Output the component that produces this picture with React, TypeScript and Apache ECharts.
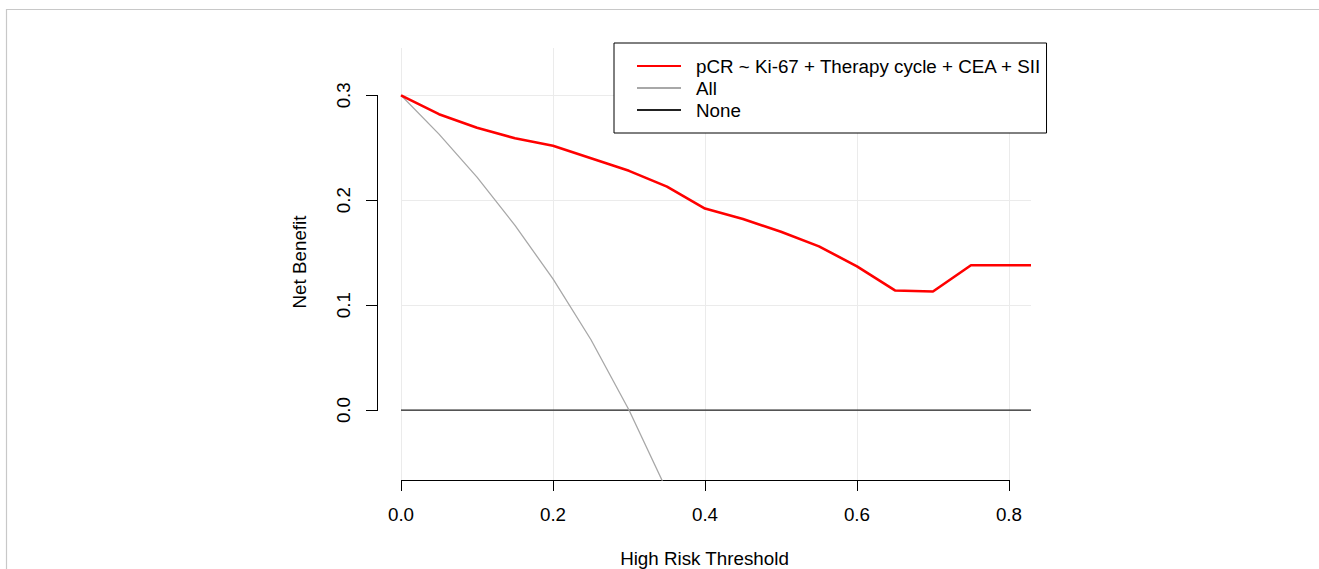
import React, { useEffect, useRef } from "react";
import * as echarts from "echarts";

const thresholds = [0, 0.05, 0.1, 0.15, 0.2, 0.25, 0.3, 0.35, 0.4, 0.45, 0.5, 0.55, 0.6, 0.65, 0.7, 0.75, 0.8, 0.829];
const modelNB = [0.300, 0.282, 0.269, 0.259, 0.252, 0.240, 0.228, 0.213, 0.192, 0.182, 0.170, 0.156, 0.137, 0.114, 0.113, 0.138, 0.138, 0.138];
const allThresholds = [0, 0.05, 0.1, 0.15, 0.2, 0.25, 0.3, 0.35];
const allNB = [0.300, 0.263, 0.222, 0.176, 0.125, 0.067, 0.0, -0.077];
const noneThresholds = [0, 0.829];
const noneNB = [0, 0];
const xTicks = [0, 0.2, 0.4, 0.6, 0.8];
const yTicks = [0, 0.1, 0.2, 0.3];
const seriesNames = ["pCR ~ Ki-67 + Therapy cycle + CEA + SII", "All", "None"];
const xMin = 0;
const xMax = 0.829;
const yMin = -0.0667;
const yMax = 0.3451;

const pair = (xs: number[], ys: number[]) => xs.map((x, i) => [x, ys[i]]);

export default function App() {
  const ref = useRef<HTMLDivElement>(null);
  useEffect(() => {
    document.body.style.margin = "0";
    const chart = echarts.init(ref.current!, null, { renderer: "svg" });
    const font = "'Liberation Sans', Arial, Helvetica, sans-serif";
    const fs = 18.8;
    const yOffset = 24;
    chart.setOption({
      animation: false,
      backgroundColor: "#ffffff",
      textStyle: { fontFamily: font, color: "#000" },
      grid: { left: 401, right: 288, top: 48, bottom: 89, containLabel: false, outerBoundsMode: "none" },
      legend: {
        data: seriesNames,
        orient: "vertical",
        left: 614,
        top: 43,
        padding: [12, 5, 12, 22],
        itemGap: 0,
        itemWidth: 44,
        itemHeight: 22,
        backgroundColor: "#ffffff",
        borderColor: "#000",
        borderWidth: 1,
        borderRadius: 0,
        selectedMode: false,
        itemStyle: { opacity: 0 },
        textStyle: { fontSize: fs, color: "#000", lineHeight: 22, padding: [0, 0, 0, 10], fontFamily: font },
        z: 20,
      },
      xAxis: {
        type: "value",
        min: xMin,
        max: xMax,
        interval: 0.2,
        name: "High Risk Threshold",
        nameLocation: "middle",
        nameGap: 69,
        nameTextStyle: { fontSize: fs, color: "#000", padding: [0, 23, 0, 0], fontFamily: font },
        axisLine: { show: false, onZero: false },
        axisTick: { show: true, length: 11, customValues: xTicks, lineStyle: { color: "#000", width: 1 } },
        axisLabel: {
          customValues: xTicks,
          fontSize: fs,
          color: "#000",
          margin: 25,
          fontFamily: font,
          formatter: (v: number) => v.toFixed(1),
        },
        splitLine: { show: true, lineStyle: { color: "#ebebeb", width: 1 } },
      },
      yAxis: {
        type: "value",
        min: yMin,
        max: yMax,
        offset: yOffset,
        name: "Net Benefit",
        nameLocation: "middle",
        nameRotate: 90,
        nameGap: 68,
        nameTextStyle: { fontSize: fs, color: "#000", padding: [0, 0, 0, 4], fontFamily: font },
        axisLine: { show: false, onZero: false },
        axisTick: { show: true, length: 11, customValues: yTicks, lineStyle: { color: "#000", width: 1 } },
        axisLabel: {
          customValues: yTicks,
          fontSize: fs,
          color: "#000",
          rotate: 90,
          margin: 24,
          fontFamily: font,
          formatter: (v: number) => v.toFixed(1),
        },
        splitLine: { show: true, lineStyle: { color: "#ebebeb", width: 1 } },
      },
      series: [
        {
          name: seriesNames[2],
          type: "line",
          data: pair(noneThresholds, noneNB),
          symbol: "none",
          lineStyle: { color: "#222", width: 1.3 },
          itemStyle: { color: "#222" },
          z: 3,
        },
        {
          name: seriesNames[1],
          type: "line",
          data: pair(allThresholds, allNB),
          symbol: "none",
          lineStyle: { color: "#a8a8a8", width: 1.3 },
          itemStyle: { color: "#a8a8a8" },
          z: 4,
        },
        {
          name: seriesNames[0],
          type: "line",
          data: pair(thresholds, modelNB),
          symbol: "none",
          lineStyle: { color: "#ff0000", width: 2.6 },
          itemStyle: { color: "#ff0000" },
          z: 5,
        },
      ],
    });

    const px = (x: number, y: number) => chart.convertToPixel({ gridIndex: 0 }, [x, y]) as number[];
    const yTop = px(0, yTicks[yTicks.length - 1]);
    const yBot = px(0, yTicks[0]);
    const xL = px(xTicks[0], yMin);
    const xR = px(xTicks[xTicks.length - 1], yMin);
    const ax = Math.round(yTop[0] - yOffset) + 0.5;
    const ay = Math.round(xL[1]) + 0.5;
    chart.setOption({
      graphic: [
        {
          type: "line",
          shape: { x1: 6.5, y1: 9, x2: 6.5, y2: 569 },
          style: { stroke: "#c8c8c8", lineWidth: 1.2 },
          silent: true,
        },
        {
          type: "line",
          shape: { x1: 6, y1: 9.5, x2: 1319, y2: 9.5 },
          style: { stroke: "#c8c8c8", lineWidth: 1.2 },
          silent: true,
        },
        {
          type: "line",
          shape: { x1: ax, y1: Math.round(yTop[1]), x2: ax, y2: Math.round(yBot[1]) + 1 },
          style: { stroke: "#000", lineWidth: 1 },
          silent: true,
        },
        {
          type: "line",
          shape: { x1: Math.round(xL[0]), y1: ay, x2: Math.round(xR[0]) + 1, y2: ay },
          style: { stroke: "#000", lineWidth: 1 },
          silent: true,
        },
      ],
    });
    return () => chart.dispose();
  }, []);
  return <div ref={ref} style={{ width: 1319, height: 569 }} />;
}
